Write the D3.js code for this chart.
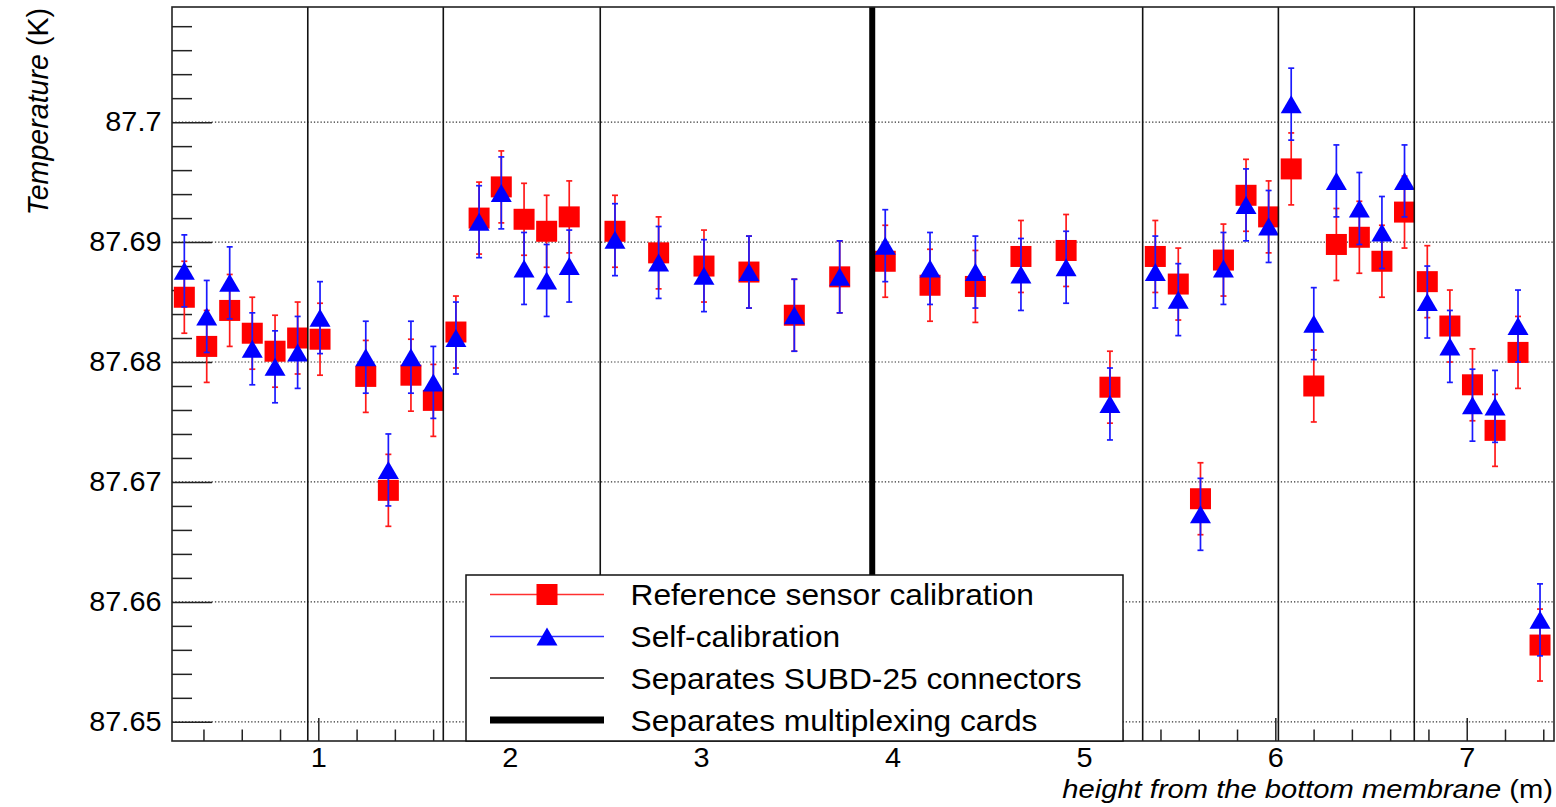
<!DOCTYPE html>
<html>
<head>
<meta charset="utf-8">
<script src="https://cdn.jsdelivr.net/npm/d3@7"></script>
<style>
  body { margin: 0; background: #fff; }
  svg { display: block; }
  text { font-family: "Liberation Sans", Arial, Helvetica, sans-serif; fill: #000; }
</style>
</head>
<body>
<svg id="chart" width="1556" height="807"></svg>
<script>
// Sensor heights above the bottom membrane (m)
const heights = [
  0.300, 0.417, 0.537, 0.655, 0.774, 0.892,
  1.009, 1.248, 1.366, 1.484, 1.601,
  1.719, 1.840, 1.956, 2.075, 2.193, 2.311,
  2.550, 2.778, 3.015, 3.250, 3.487, 3.724,
  3.962, 4.196, 4.433, 4.671, 4.907, 5.136,
  5.373, 5.493, 5.609, 5.729, 5.847, 5.965,
  6.083, 6.201, 6.319, 6.439, 6.557, 6.675,
  6.794, 6.912, 7.030, 7.148, 7.268, 7.383
];

// Temperatures with the reference sensor calibration (K)
const refTemp = [
  87.6854, 87.6813, 87.6843, 87.6824, 87.6809, 87.6820,
  87.6819, 87.6788, 87.6693, 87.6789, 87.6768,
  87.6825, 87.6920, 87.6946, 87.6919, 87.6909, 87.6921,
  87.6909, 87.6891, 87.6880, 87.6875, 87.6839, 87.6871,
  87.6884, 87.6864, 87.6863, 87.6888, 87.6893, 87.6779,
  87.6888, 87.6865, 87.6686, 87.6885, 87.6939, 87.6921,
  87.6961, 87.6780, 87.6898, 87.6904, 87.6884, 87.6925,
  87.6867, 87.6830, 87.6781, 87.6743, 87.6808, 87.6564
];
const refErr = [
  0.0030, 0.0030, 0.0030, 0.0030, 0.0030, 0.0030,
  0.0030, 0.0030, 0.0030, 0.0030, 0.0030,
  0.0030, 0.0030, 0.0030, 0.0030, 0.0030, 0.0030,
  0.0030, 0.0030, 0.0030, 0.0030, 0.0030, 0.0030,
  0.0030, 0.0030, 0.0030, 0.0030, 0.0030, 0.0030,
  0.0030, 0.0030, 0.0030, 0.0030, 0.0030, 0.0030,
  0.0030, 0.0030, 0.0030, 0.0030, 0.0030, 0.0030,
  0.0030, 0.0030, 0.0030, 0.0030, 0.0030, 0.0030
];

// Temperatures with the self-calibration (K)
const selfTemp = [
  87.6876, 87.6838, 87.6866, 87.6811, 87.6796, 87.6808,
  87.6837, 87.6804, 87.6710, 87.6804, 87.6783,
  87.6820, 87.6917, 87.6941, 87.6878, 87.6868, 87.6880,
  87.6902, 87.6883, 87.6872, 87.6875, 87.6839, 87.6871,
  87.6897, 87.6878, 87.6875, 87.6873, 87.6879, 87.6765,
  87.6875, 87.6852, 87.6673, 87.6878, 87.6931, 87.6913,
  87.7015, 87.6832, 87.6951, 87.6928, 87.6908, 87.6951,
  87.6850, 87.6813, 87.6764, 87.6763, 87.6830, 87.6585
];
const selfErr = [
  0.0030, 0.0030, 0.0030, 0.0030, 0.0030, 0.0030,
  0.0030, 0.0030, 0.0030, 0.0030, 0.0030,
  0.0030, 0.0030, 0.0030, 0.0030, 0.0030, 0.0030,
  0.0030, 0.0030, 0.0030, 0.0030, 0.0030, 0.0030,
  0.0030, 0.0030, 0.0030, 0.0030, 0.0030, 0.0030,
  0.0030, 0.0030, 0.0030, 0.0030, 0.0030, 0.0030,
  0.0030, 0.0030, 0.0030, 0.0030, 0.0030, 0.0030,
  0.0030, 0.0030, 0.0030, 0.0030, 0.0030, 0.0030
];

// Boundaries between SUBD-25 connectors and between multiplexing cards (m)
const connectorCuts = [0.945, 1.653, 2.473, 5.307, 6.016, 6.726];
const cardCuts = [3.894];

// Axis ticks
const yTicks = [87.65, 87.66, 87.67, 87.68, 87.69, 87.7];
const yMinorTicks = [87.652, 87.654, 87.656, 87.658, 87.662, 87.664, 87.666, 87.668,
  87.672, 87.674, 87.676, 87.678, 87.682, 87.684, 87.686, 87.688,
  87.692, 87.694, 87.696, 87.698, 87.702, 87.704, 87.706, 87.708];
const xTicks = [1, 2, 3, 4, 5, 6, 7];
const xMinorTicks = [0.4, 0.6, 0.8, 1.2, 1.4, 1.6, 1.8, 2.2, 2.4, 2.6, 2.8,
  3.2, 3.4, 3.6, 3.8, 4.2, 4.4, 4.6, 4.8, 5.2, 5.4, 5.6, 5.8,
  6.2, 6.4, 6.6, 6.8, 7.2, 7.4];

const legendLabels = [
  "Reference sensor calibration",
  "Self-calibration",
  "Separates SUBD-25 connectors",
  "Separates multiplexing cards"
];

const svg = d3.select("#chart");
const frame = { left: 172, right: 1554, top: 7, bottom: 741 };

const x = d3.scaleLinear().domain([0.2356, 7.456]).range([frame.left, frame.right]);
const y = d3.scaleLinear().domain([87.6484, 87.7096]).range([frame.bottom, frame.top]);

// Horizontal dotted grid at major y ticks
svg.append("g").selectAll("line").data(yTicks).join("line")
  .attr("x1", frame.left).attr("x2", frame.right)
  .attr("y1", d => y(d)).attr("y2", d => y(d))
  .attr("stroke", "#333").attr("stroke-width", 1.2)
  .attr("stroke-dasharray", "1.3,2");

// Y axis: major ticks with labels, minor ticks without
const fmt = d => String(+d.toFixed(2));
const yAxis = svg.append("g").attr("transform", `translate(${frame.left},0)`)
  .call(d3.axisLeft(y).tickValues(yTicks).tickSize(-40).tickPadding(10).tickFormat(fmt));
const yMinor = svg.append("g").attr("transform", `translate(${frame.left},0)`)
  .call(d3.axisLeft(y).tickValues(yMinorTicks).tickSize(-20).tickFormat(""));

// X axis
const xAxis = svg.append("g").attr("transform", `translate(0,${frame.bottom})`)
  .call(d3.axisBottom(x).tickValues(xTicks).tickSize(-23).tickPadding(6).tickFormat(d3.format("d")));
const xMinor = svg.append("g").attr("transform", `translate(0,${frame.bottom})`)
  .call(d3.axisBottom(x).tickValues(xMinorTicks).tickSize(-11.5).tickFormat(""));

[yAxis, yMinor, xAxis, xMinor].forEach(g => {
  g.select(".domain").remove();
  g.selectAll(".tick line").attr("stroke", "#222").attr("stroke-width", 1.5);
  g.selectAll(".tick text")
    .attr("font-size", 27.5)
    .attr("font-family", "Liberation Sans, Arial, sans-serif")
    .attr("transform", "scale(1.05,1)");
});

// Error bars and markers
function errorBars(vals, errs, color) {
  const g = svg.append("g").attr("stroke", color).attr("stroke-width", 1.7);
  heights.forEach((h, i) => {
    const cx = x(h), y1 = y(vals[i] + errs[i]), y2 = y(vals[i] - errs[i]);
    g.append("line").attr("x1", cx).attr("x2", cx).attr("y1", y1).attr("y2", y2);
    g.append("line").attr("x1", cx - 3).attr("x2", cx + 3).attr("y1", y1).attr("y2", y1);
    g.append("line").attr("x1", cx - 3).attr("x2", cx + 3).attr("y1", y2).attr("y2", y2);
  });
}
const sq = 21;
const triW = 21, triH = 18;
const triPath = `M${-triW / 2},${triH / 2}L${triW / 2},${triH / 2}L0,${-triH / 2}Z`;

errorBars(refTemp, refErr, "#ff1a1a");
svg.append("g").selectAll("rect").data(heights).join("rect")
  .attr("x", d => x(d) - sq / 2)
  .attr("y", (d, i) => y(refTemp[i]) - sq / 2)
  .attr("width", sq).attr("height", sq)
  .attr("fill", "#ff0000");

errorBars(selfTemp, selfErr, "#1a1aff");
svg.append("g").selectAll("path").data(heights).join("path")
  .attr("transform", (d, i) => `translate(${x(d)},${y(selfTemp[i])})`)
  .attr("d", triPath)
  .attr("fill", "#0000ff");

// Separator lines
svg.append("g").selectAll("line").data(connectorCuts).join("line")
  .attr("x1", d => x(d)).attr("x2", d => x(d))
  .attr("y1", frame.top).attr("y2", frame.bottom)
  .attr("stroke", "#111").attr("stroke-width", 1.6);
svg.append("g").selectAll("line").data(cardCuts).join("line")
  .attr("x1", d => x(d)).attr("x2", d => x(d))
  .attr("y1", frame.top).attr("y2", frame.bottom)
  .attr("stroke", "#000").attr("stroke-width", 6);

// Frame
svg.append("rect")
  .attr("x", frame.left).attr("y", frame.top)
  .attr("width", frame.right - frame.left).attr("height", frame.bottom - frame.top)
  .attr("fill", "none").attr("stroke", "#222").attr("stroke-width", 1.6);

// Legend
const leg = svg.append("g");
leg.append("rect").attr("x", 466).attr("y", 575).attr("width", 657).attr("height", 166)
  .attr("fill", "#fff").attr("stroke", "#111").attr("stroke-width", 1.5);
const rowY = [594.5, 636.5, 678, 720];
const sampleX1 = 490, sampleX2 = 604, sampleMid = 547;
legendLabels.forEach((label, i) => {
  const cy = rowY[i];
  const line = leg.append("line").attr("x1", sampleX1).attr("x2", sampleX2).attr("y1", cy).attr("y2", cy);
  if (i === 0) {
    line.attr("stroke", "#ff3030").attr("stroke-width", 1.5);
    leg.append("rect").attr("x", sampleMid - sq / 2).attr("y", cy - sq / 2)
      .attr("width", sq).attr("height", sq).attr("fill", "#ff0000");
  } else if (i === 1) {
    line.attr("stroke", "#3030ff").attr("stroke-width", 1.5);
    leg.append("path").attr("transform", `translate(${sampleMid},${cy})`)
      .attr("d", triPath).attr("fill", "#0000ff");
  } else if (i === 2) {
    line.attr("stroke", "#111").attr("stroke-width", 1.5);
  } else {
    line.attr("stroke", "#000").attr("stroke-width", 7);
  }
  leg.append("text")
    .attr("transform", `translate(630.5,${cy + 10.5}) scale(1.075,1)`)
    .attr("font-size", 29.5).text(label);
});

// Axis titles
const yTitle = svg.append("text")
  .attr("transform", "translate(48,8) rotate(-90)")
  .attr("text-anchor", "end").attr("font-size", 28.6);
yTitle.append("tspan").attr("font-style", "italic").text("Temperature");
yTitle.append("tspan").text(" (K)");

const xTitle = svg.append("text")
  .attr("transform", "translate(1553,798) scale(1.1,1)")
  .attr("text-anchor", "end").attr("font-size", 26.5);
xTitle.append("tspan").attr("font-style", "italic").text("height from the bottom membrane");
xTitle.append("tspan").text(" (m)");
</script>
</body>
</html>
